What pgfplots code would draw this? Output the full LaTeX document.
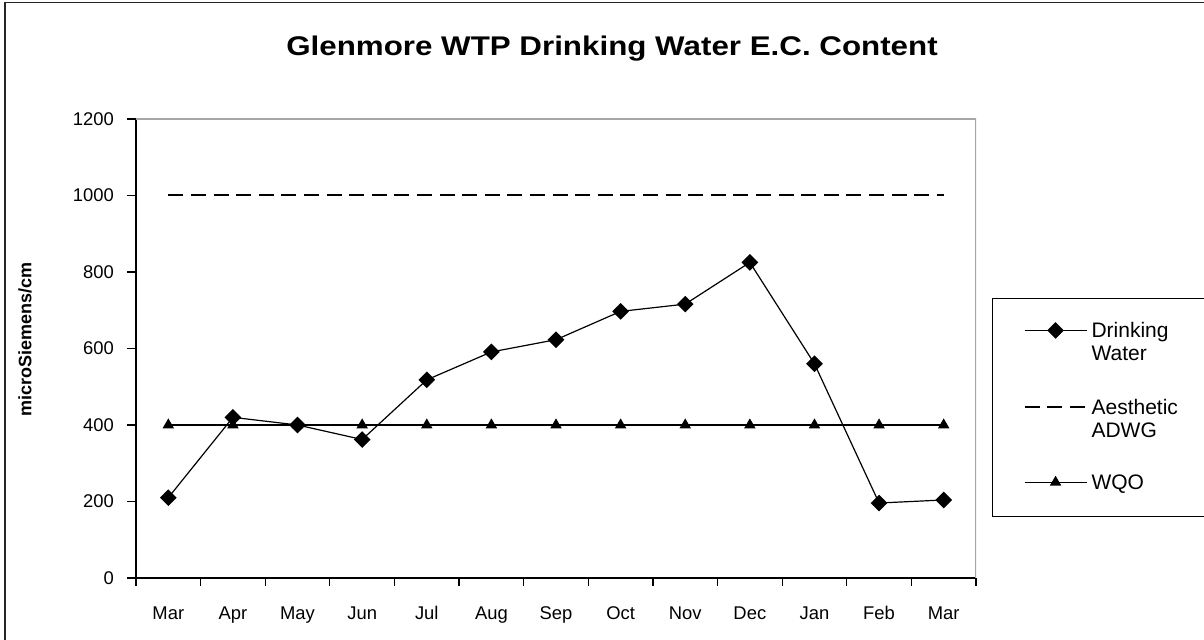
\documentclass[border=0pt]{standalone}
\usepackage{pgfplots}
\pgfplotsset{compat=1.18}
\usepackage{fontspec}
\setmainfont{Liberation Sans}
\begin{document}
\begin{tikzpicture}
\path[use as bounding box] (0,0) rectangle (602pt,320pt);
\clip (0,0) rectangle (602pt,320pt);
\draw[line width=0.75pt, black!85] (2.5pt,-10pt) -- (2.5pt,318.8pt) -- (700pt,318.8pt);
\node[font=\fontsize{13.5}{16}\selectfont\bfseries] at (306pt,295.5pt) {\scalebox{1.16}[1]{Glenmore WTP Drinking Water E.C. Content}};
\begin{axis}[
  at={(68pt,31pt)}, anchor=south west,
  scale only axis, width=420pt, height=229.5pt,
  xmin=-0.5, xmax=12.5, ymin=0, ymax=1200,
  axis x line*=bottom, axis y line*=left,
  axis line style={black, line width=0.6pt},
  xtick={0,...,12},
  xticklabels={Mar,Apr,May,Jun,Jul,Aug,Sep,Oct,Nov,Dec,Jan,Feb,Mar},
  major x tick style={draw=none},
  minor xtick={-0.5,0.5,...,12.5},
  ytick={0,200,...,1200},
  tick align=outside,
  major tick length=4.5pt, minor tick length=4pt,
  tick style={black, line width=0.6pt},
  ticklabel style={font=\fontsize{9.2}{10}\selectfont},
  xticklabel style={anchor=base, yshift=-16.5pt},
  yticklabel style={xshift=-3pt},
  /pgf/number format/assume math mode=true,
  /pgf/number format/1000 sep={},
  ylabel={microSiemens/cm},
  ylabel style={at={(axis description cs:-0.132,0.52)}, anchor=center, font=\fontsize{9}{10}\selectfont\bfseries},
  legend image code/.code={\draw[mark repeat=2,mark phase=2,#1] plot coordinates {(0pt,3.7pt) (15.5pt,3.7pt) (31pt,3.7pt)};},
  legend style={at={(axis description cs:1.019,0.610)}, anchor=north west, draw=black, line width=0.6pt, fill=white,
    inner xsep=15.5pt, inner ysep=10pt, row sep=25pt, font=\fontsize{10.5}{11.5}\selectfont,
    cells={anchor=base west}, /tikz/every even column/.append style={column sep=6pt}},
]
\draw[gray!70, line width=0.6pt] (rel axis cs:0,1) -- (rel axis cs:1,1) -- (rel axis cs:1,0);
\addplot[black, line width=0.6pt, mark=square*, mark size=2.65pt, mark options={rotate=45, solid}]
  coordinates {(0,210) (1,420) (2,400) (3,362) (4,518) (5,591) (6,623) (7,697) (8,716) (9,825) (10,560) (11,196) (12,204)};
\addlegendentry{\vtop{\hbox{Drinking}\hbox{Water}}}
\addplot[black, line width=1pt, dash pattern=on 7.5pt off 3.8pt]
  coordinates {(0,1000) (1,1000) (2,1000) (3,1000) (4,1000) (5,1000) (6,1000) (7,1000) (8,1000) (9,1000) (10,1000) (11,1000) (12,1000)};
\addlegendentry{\vtop{\hbox{Aesthetic}\hbox{ADWG}}}
\addplot[black, line width=0.6pt, mark=triangle*, mark size=2.7pt, mark options={solid}]
  coordinates {(0,400) (1,400) (2,400) (3,400) (4,400) (5,400) (6,400) (7,400) (8,400) (9,400) (10,400) (11,400) (12,400)};
\addlegendentry{WQO}
\end{axis}
\end{tikzpicture}
\end{document}
